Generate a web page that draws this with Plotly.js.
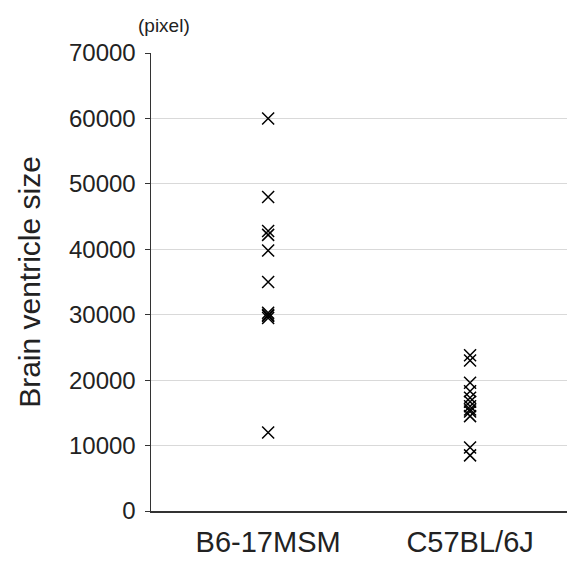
<!DOCTYPE html>
<html>
<head>
<meta charset="utf-8">
<script src="https://cdn.plot.ly/plotly-3.0.1.min.js"></script>
<style>html,body{margin:0;padding:0;background:#fff;}#chart{width:567px;height:563px;}</style>
</head>
<body>
<div id="chart"></div>
<script>
const categories = ["B6-17MSM", "C57BL/6J"];
const b6Values = [60000, 48000, 42800, 42200, 39800, 35000, 30300, 30000, 29800, 29500, 12000];
const c57Values = [23800, 23000, 19600, 18300, 17300, 16700, 16000, 15500, 15200, 14500, 9700, 8500];
const yTickVals = [0, 10000, 20000, 30000, 40000, 50000, 60000, 70000];
const yTickText = ["0", "10000", "20000", "30000", "40000", "50000", "60000", "70000"];

const xs = [], ys = [];
b6Values.forEach(v => { xs.push(categories[0]); ys.push(v); });
c57Values.forEach(v => { xs.push(categories[1]); ys.push(v); });

const font = "Liberation Sans, Arial, sans-serif";
const trace = {
  type: "scatter", mode: "markers", x: xs, y: ys,
  marker: {symbol: "x-thin", size: 12, color: "#000", line: {color: "#000", width: 1.5}},
  hoverinfo: "none"
};
const layout = {
  width: 567, height: 563,
  margin: {l: 151, r: 0, t: 53, b: 52},
  paper_bgcolor: "#fff", plot_bgcolor: "#fff",
  showlegend: false,
  font: {family: font, color: "#000"},
  xaxis: {
    type: "category", categoryorder: "array", categoryarray: categories,
    range: [-0.58, 1.48], showgrid: false, zeroline: false,
    showline: true, linecolor: "#333", linewidth: 1.5,
    ticks: "", ticklabelstandoff: 5,
    tickfont: {family: font, size: 29, color: "#222"}
  },
  yaxis: {
    range: [0, 70000], tickvals: yTickVals, ticktext: yTickText,
    showgrid: true, gridcolor: "#d9d9d9", gridwidth: 1, zeroline: false,
    showline: true, linecolor: "#333", linewidth: 1.5,
    ticks: "outside", ticklen: 5, tickcolor: "#333", tickwidth: 1,
    ticklabelstandoff: 4,
    tickfont: {family: font, size: 24, color: "#222"},
    title: {text: "Brain ventricle size", font: {family: font, size: 30, color: "#222"}, standoff: 19}
  },
  annotations: [{
    text: "(pixel)", xref: "paper", yref: "paper", x: 0.031, y: 1.061,
    xanchor: "center", yanchor: "middle", showarrow: false,
    font: {family: font, size: 19, color: "#222"}
  }]
};
Plotly.newPlot("chart", [trace], layout, {staticPlot: true, displayModeBar: false});
</script>
</body>
</html>
